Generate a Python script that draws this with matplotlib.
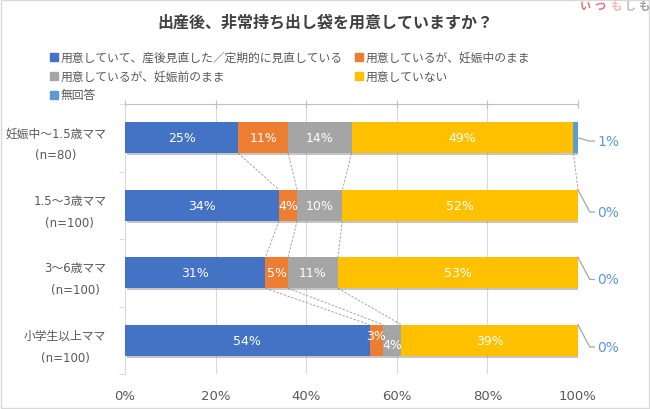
import numpy as np
import matplotlib.pyplot as plt
from matplotlib.patches import Rectangle
import matplotlib.patheffects as pe

# latin glyphs from DejaVu, japanese from Noto CJK
plt.rcParams['font.family'] = ['DejaVu Sans', 'Noto Sans CJK JP']

# data
categories = ['妊娠中～1.5歳ママ\n(n=80)', '1.5～3歳ママ\n(n=100)',
              '3～6歳ママ\n(n=100)', '小学生以上ママ\n(n=100)']
series_names = ['用意していて、産後見直した／定期的に見直している',
                '用意しているが、妊娠中のまま',
                '用意しているが、妊娠前のまま',
                '用意していない',
                '無回答']
reviewed = [25, 34, 31, 54]
pregnant = [11, 4, 5, 3]
before = [14, 10, 11, 4]
not_ready = [49, 52, 53, 39]
no_answer = [1, 0, 0, 0]
xticks = [0, 20, 40, 60, 80, 100]

colors = ['#4472C4', '#ED7D31', '#A5A5A5', '#FFC000', '#5B9BD5']
series = [reviewed, pregnant, before, not_ready, no_answer]
vals = np.array(series, dtype=float)

W, H = 650, 410
fig = plt.figure(figsize=(6.5, 4.1), dpi=100)
ax = fig.add_axes([125 / W, 1 - 375 / H, (578 - 125) / W, (375 - 105) / H])

y = np.arange(len(categories))
bar_h = 0.46
shadow = [pe.SimplePatchShadow(offset=(1.2, -1.5), shadow_rgbFace='#7F7F7F', alpha=0.45), pe.Normal()]

left = np.zeros(len(categories))
for i, (vals_i, c) in enumerate(zip(vals, colors)):
    bars = ax.barh(y, vals_i, left=left, height=bar_h, color=c, zorder=3)
    for b in bars:
        b.set_path_effects(shadow)
    if i < 4:
        for j, v in enumerate(vals_i):
            # nudge the crowded small labels in the last row like the original
            dy = 0
            if j == 3 and i == 1:
                dy = -0.07
            if j == 3 and i == 2:
                dy = 0.07
            ax.text(left[j] + v / 2, y[j] + dy, f'{int(v)}%', ha='center', va='center',
                    color='white', fontsize=9, zorder=5)
    left = left + vals_i

# series lines between bars
cum = np.cumsum(vals, axis=0)
for k in range(cum.shape[0]):
    for j in range(len(categories) - 1):
        ax.plot([cum[k, j], cum[k, j + 1]], [y[j] + bar_h / 2, y[j + 1] - bar_h / 2],
                color='#A6A6A6', lw=0.7, ls=(0, (2.5, 1.5)), zorder=2)

# no-answer labels with leader lines
for j, v in enumerate(no_answer):
    if v > 0:
        y0 = y[j]
        ly = y[j] + 0.05
    else:
        y0 = y[j] - bar_h / 2
        ly = y[j] + 0.1
    ax.plot([100, 102.6, 103.6], [y0, ly, ly], color='#A6A6A6', lw=0.9,
            clip_on=False, zorder=4)
    ax.text(104.3, ly, f'{v}%', color='#5B9BD5', fontsize=10, va='center', ha='left')

ax.set_xlim(0, 100)
ax.set_ylim(len(categories) - 0.5, -0.5)
ax.set_xticks(xticks)
ax.set_xticklabels([f'{t}%' for t in xticks])
ax.set_yticks(y)
ax.set_yticklabels(categories, multialignment='center', linespacing=1.9)
ax.set_yticks(np.arange(len(categories) + 1) - 0.5, minor=True)

ax.grid(axis='x', color='#D9D9D9', lw=0.8, zorder=0)
ax.tick_params(axis='x', which='major', top=True, bottom=False, labelbottom=True,
               labeltop=False, direction='inout', length=6, color='#BFBFBF',
               labelcolor='#595959', labelsize=9.5, pad=8)
ax.tick_params(axis='y', which='major', left=False, labelcolor='#595959',
               labelsize=8.5, pad=10)
ax.tick_params(axis='y', which='minor', left=True, length=4, color='#D9D9D9')
for s in ['right', 'bottom']:
    ax.spines[s].set_visible(False)
ax.spines['top'].set_color('#BFBFBF')
ax.spines['left'].set_color('#D9D9D9')

# title
fig.text(325 / W, 1 - 23 / H, '出産後、非常持ち出し袋を用意していますか？', ha='center',
         va='center', fontsize=11.5, fontweight='bold', color='#404040')

# legend, laid out in two columns like the original
for i, (name, c) in enumerate(zip(series_names, colors)):
    cx = 50 + (i % 2) * 305
    cy = 58 + (i // 2) * 19
    fig.patches.append(Rectangle((cx / W, 1 - (cy + 4) / H), 8 / W, 8 / H,
                                 transform=fig.transFigure, color=c))
    fig.text((cx + 11) / W, 1 - cy / H, name, ha='left', va='center',
             fontsize=8.5, color='#595959')

# watermark
for ch, xx, col in zip('いつもしも', [585, 600, 616, 630, 644],
                       ['#E57373', '#E57373', '#F4B6B6', '#BDBDBD', '#9E9E9E']):
    fig.text(xx / W, 1 - 7 / H, ch, ha='center', va='center', fontsize=8,
             fontweight='bold', color=col)

# figure frame
fig.patches.append(Rectangle((0.001, 0.002), 0.997, 0.996, transform=fig.transFigure,
                             fill=False, edgecolor='#D9D9D9', lw=1))

fig.savefig('out.png', dpi=100)
